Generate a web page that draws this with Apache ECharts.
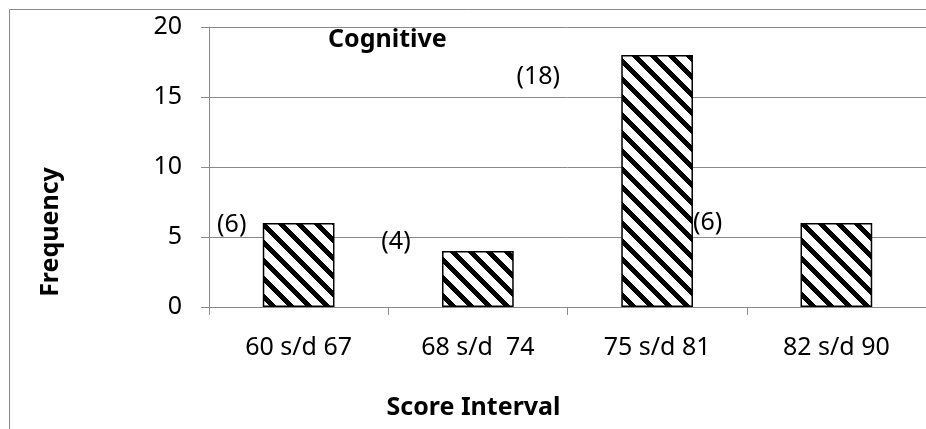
<!DOCTYPE html>
<html>
<head>
<meta charset="utf-8">
<script src="https://cdn.jsdelivr.net/npm/echarts@6/dist/echarts.min.js"></script>
<style>
html,body{margin:0;padding:0;background:#fff;}
#c{width:926px;height:429px;}
</style>
</head>
<body>
<div id="c"></div>
<script>
const categories = ['60 s/d 67', '68 s/d  74', '75 s/d 81', '82 s/d 90'];
const frequencies = [6, 4, 18, 6];
const yTicks = [0, 5, 10, 15, 20];
const chartTitle = 'Cognitive';
const xTitle = 'Score Interval';
const yTitle = 'Frequency';

// label placement offsets (relative to bar top-left), as in the reference
const labelPos = [[-31, 2], [-46, -9], [-83, 22], [-93, 0]];

function hatch() {
  const p = 18, w = 7;
  const cv = document.createElement('canvas');
  cv.width = p; cv.height = p;
  const g = cv.getContext('2d');
  const img = g.createImageData(p, p);
  for (let y = 0; y < p; y++) {
    for (let x = 0; x < p; x++) {
      const k = (((x - y) % p) + p) % p;
      const c = k < w ? 0 : 255;
      const i = (y * p + x) * 4;
      img.data[i] = c; img.data[i + 1] = c; img.data[i + 2] = c; img.data[i + 3] = 255;
    }
  }
  g.putImageData(img, 0, 0);
  return cv;
}

const FONT = 'Noto Sans';
const chart = echarts.init(document.getElementById('c'), null, {renderer: 'canvas'});
const pattern = {image: hatch(), repeat: 'repeat'};

chart.setOption({
  animation: false,
  backgroundColor: '#fff',
  title: {
    text: chartTitle,
    left: 328, top: 27, padding: 0,
    textStyle: {fontFamily: FONT, fontSize: 25, fontWeight: 'bold', color: '#000'}
  },
  graphic: [{
    type: 'rect', z: -10, silent: true,
    shape: {x: 9.5, y: 9.5, width: 1000, height: 1000},
    style: {fill: 'none', stroke: '#8a8a8a', lineWidth: 1}
  }],
  grid: {left: 209, top: 27, bottom: 122, right: -3, containLabel: false},
  xAxis: {
    type: 'category',
    data: categories,
    name: xTitle,
    nameLocation: 'middle',
    nameGap: 88,
    nameTextStyle: {fontFamily: FONT, fontSize: 25, fontWeight: 'bold', color: '#000', padding: [0, 188, 0, 0]},
    axisLine: {lineStyle: {color: '#8a8a8a', width: 1}},
    axisTick: {show: true, alignWithLabel: false, length: 8, lineStyle: {color: '#8a8a8a'}},
    axisLabel: {fontFamily: FONT, fontSize: 25, color: '#000', margin: 28, interval: 0},
    splitLine: {show: false}
  },
  yAxis: {
    type: 'value',
    min: 0, max: 20, interval: 5,
    name: yTitle,
    nameLocation: 'middle',
    nameGap: 146,
    nameRotate: 90,
    nameTextStyle: {fontFamily: FONT, fontSize: 25, fontWeight: 'bold', color: '#000', padding: [0, 130, 0, 0]},
    axisLine: {show: true, lineStyle: {color: '#8a8a8a', width: 1}},
    axisTick: {show: true, length: 8, lineStyle: {color: '#8a8a8a'}},
    axisLabel: {
      fontFamily: FONT, fontSize: 25, color: '#000', margin: 27,
      formatter: v => (yTicks.indexOf(v) >= 0 ? String(v) : '')
    },
    splitLine: {show: true, lineStyle: {color: '#8a8a8a', width: 1}}
  },
  series: [{
    type: 'bar',
    barWidth: '40%',
    data: frequencies.map((v, i) => ({
      value: v,
      label: {
        show: true,
        position: labelPos[i],
        align: 'center',
        verticalAlign: 'middle',
        formatter: '(' + v + ')',
        fontFamily: FONT, fontSize: 25, color: '#000'
      }
    })),
    itemStyle: {color: pattern, borderColor: '#000', borderWidth: 1.5}
  }]
});
</script>
</body>
</html>
